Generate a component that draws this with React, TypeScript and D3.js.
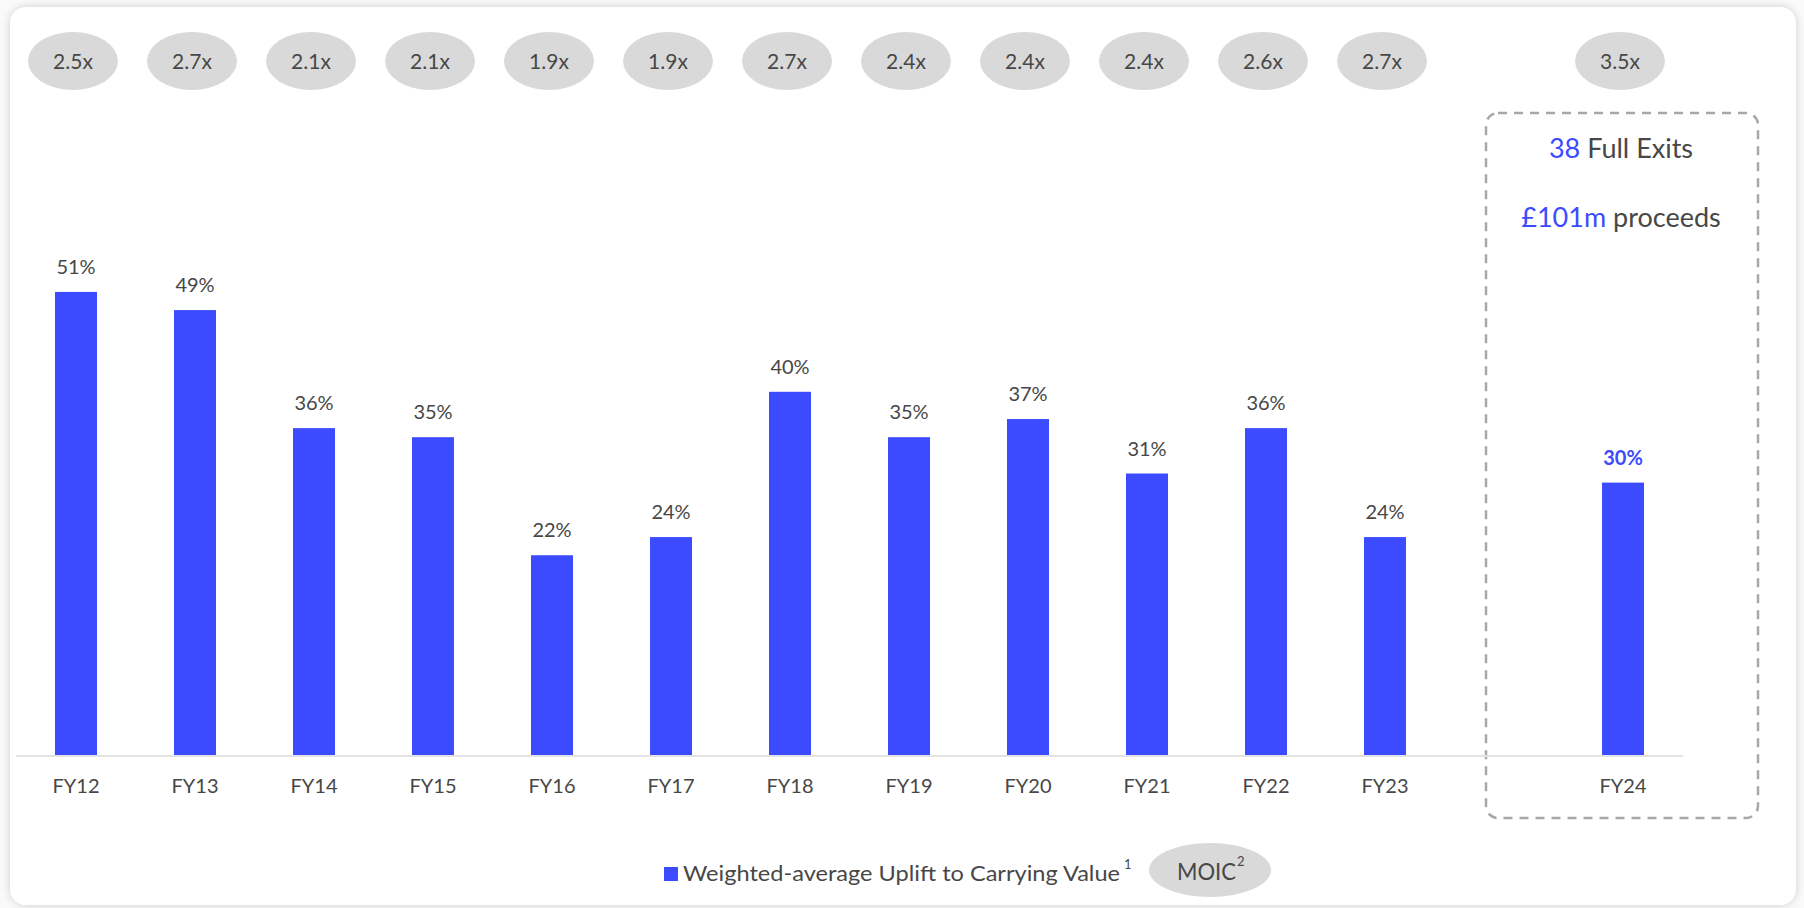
import React from "react";
import * as d3 from "d3";

const categories = ["FY12", "FY13", "FY14", "FY15", "FY16", "FY17", "FY18", "FY19", "FY20", "FY21", "FY22", "FY23", "FY24"];
const uplift = [51, 49, 36, 35, 22, 24, 40, 35, 37, 31, 36, 24, 30];
const moic = ["2.5x", "2.7x", "2.1x", "2.1x", "1.9x", "1.9x", "2.7x", "2.4x", "2.4x", "2.4x", "2.6x", "2.7x", "3.5x"];
const highlightCategory = "FY24";
const fullExits = "38";
const proceeds = "£101m";

const W = 1804;
const H = 908;
const BLUE = "#3c4bff";
const TEXT = "#474747";
const FONT = "Lato, 'Open Sans', sans-serif";

export default function App() {
  const slots = [...categories.slice(0, 12), "__gap__", categories[12]];
  const x = d3
    .scaleBand<string>()
    .domain(slots)
    .range([16.5, 1682.5])
    .paddingInner(1 - 42 / 119)
    .paddingOuter((1 - 42 / 119) / 2);
  const y = d3.scaleLinear().domain([0, 60]).range([755, 755 - 60 * 9.08]);
  const cx = (c: string) => (x(c) as number) + x.bandwidth() / 2;

  return (
    <svg width={W} height={H} style={{ position: "absolute", left: 0, top: 0 }}>
      <defs>
        <filter id="shadow" x="-5%" y="-5%" width="110%" height="110%">
          <feDropShadow dx="0" dy="0" stdDeviation="4" floodColor="#000" floodOpacity="0.18" />
        </filter>
      </defs>
      <rect x={0} y={0} width={W} height={H} fill="#fafafa" />
      <rect x={10} y={7} width={1786} height={898} rx={16} fill="#fff" filter="url(#shadow)" />

      {/* MOIC ellipses */}
      {categories.map((c, i) => (
        <g key={"m" + c}>
          <ellipse cx={cx(c) - 3} cy={61} rx={45} ry={29} fill="#d9d9d9" />
          <text x={cx(c) - 3} y={69} textAnchor="middle" fontFamily={FONT} fontSize={21} fill={TEXT}>
            {moic[i]}
          </text>
        </g>
      ))}

      {/* dashed box */}
      <rect x={1486} y={113} width={272} height={705} rx={12} fill="none" stroke="#a8a8a8" strokeWidth={2.5} strokeDasharray="9 7" />
      <text x={cx(highlightCategory) - 2} y={158} textAnchor="middle" fontFamily={FONT} fontSize={27} fill={TEXT}>
        <tspan fill={BLUE}>{fullExits}</tspan> Full Exits
      </text>
      <text x={cx(highlightCategory) - 2} y={227} textAnchor="middle" fontFamily={FONT} fontSize={27} fill={TEXT}>
        <tspan fill={BLUE}>{proceeds}</tspan> proceeds
      </text>

      {/* baseline */}
      <line x1={16} x2={1683} y1={y(0) + 1} y2={y(0) + 1} stroke="#e3e3e3" strokeWidth={2} />

      {/* bars */}
      {categories.map((c, i) => (
        <g key={"b" + c}>
          <rect x={x(c)} y={y(uplift[i])} width={x.bandwidth()} height={y(0) - y(uplift[i])} fill={BLUE} />
          <text
            x={cx(c)}
            y={y(uplift[i]) - 18}
            textAnchor="middle"
            fontFamily={FONT}
            fontSize={20}
            fontWeight={c === highlightCategory ? 700 : 400}
            fill={c === highlightCategory ? BLUE : TEXT}
          >
            {uplift[i]}%
          </text>
          <text x={cx(c)} y={793} textAnchor="middle" fontFamily={FONT} fontSize={20} fill={TEXT}>
            {c}
          </text>
        </g>
      ))}

      {/* legend */}
      <rect x={664} y={867} width={14} height={14} fill={BLUE} />
      <text x={683} y={881} fontFamily={FONT} fontSize={22} fill={TEXT} textLength={437} lengthAdjust="spacingAndGlyphs">
        Weighted-average Uplift to Carrying Value
      </text>
      <text x={1124} y={869} fontFamily={FONT} fontSize={13} fill={TEXT}>1</text>
      <ellipse cx={1210} cy={870} rx={61} ry={27} fill="#d9d9d9" />
      <text x={1177} y={880} fontFamily={FONT} fontSize={23} fill={TEXT} textLength={59} lengthAdjust="spacingAndGlyphs">
        MOIC
      </text>
      <text x={1237} y={866} fontFamily={FONT} fontSize={13} fill={TEXT}>2</text>
    </svg>
  );
}
